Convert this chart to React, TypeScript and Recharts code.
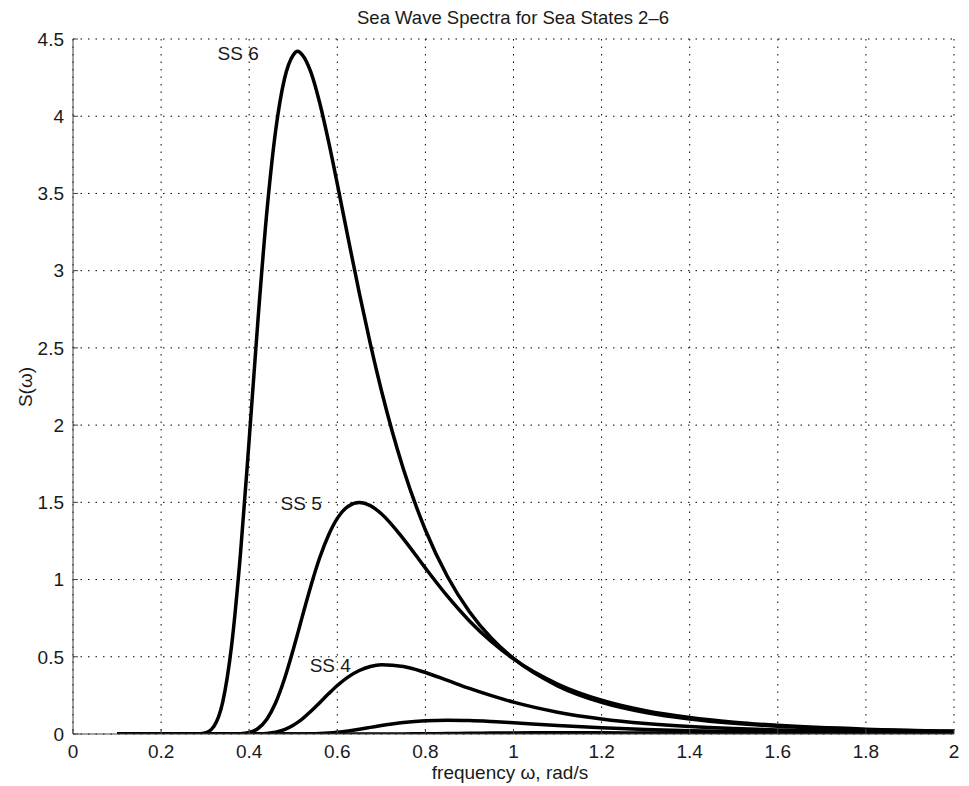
import React from 'react';
import { LineChart, Line, XAxis, YAxis, CartesianGrid, ReferenceDot } from 'recharts';

const omega = [0.1, 0.2, 0.25, 0.28, 0.3, 0.32, 0.34, 0.36, 0.38, 0.4, 0.42, 0.44, 0.46, 0.48, 0.5, 0.51, 0.52, 0.54, 0.56, 0.58, 0.6, 0.625, 0.65, 0.675, 0.7, 0.75, 0.8, 0.85, 0.9, 0.95, 1.0, 1.1, 1.2, 1.3, 1.4, 1.5, 1.6, 1.8, 2.0];

const ss6 = [0, 0, 0, 0.0003, 0.0064, 0.05, 0.208, 0.571, 1.161, 1.907, 2.685, 3.378, 3.906, 4.241, 4.397, 4.42, 4.399, 4.285, 4.087, 3.838, 3.562, 3.204, 2.855, 2.526, 2.226, 1.716, 1.321, 1.02, 0.792, 0.62, 0.489, 0.312, 0.205, 0.139, 0.097, 0.069, 0.05, 0.028, 0.0165];

const ss5 = [0, 0, 0, 0, 0, 0, 0, 0, 0.0017, 0.0097, 0.0357, 0.0957, 0.202, 0.356, 0.547, 0.65, 0.755, 0.959, 1.141, 1.287, 1.396, 1.475, 1.4995, 1.479, 1.426, 1.264, 1.074, 0.892, 0.732, 0.597, 0.486, 0.324, 0.219, 0.151, 0.1065, 0.0765, 0.056, 0.0314, 0.0187];

const ss4 = [0, 0, 0, 0, 0, 0, 0, 0, 0, 0, 0.0008, 0.0036, 0.0114, 0.0279, 0.0561, 0.0749, 0.0965, 0.147, 0.203, 0.26, 0.314, 0.37, 0.411, 0.437, 0.448, 0.437, 0.398, 0.347, 0.295, 0.248, 0.206, 0.1414, 0.0976, 0.0682, 0.0484, 0.035, 0.0257, 0.0145, 0.0087];

const ss3 = [0, 0, 0, 0, 0, 0, 0, 0, 0, 0, 0, 0, 0, 0, 0, 0.0002, 0.0005, 0.0014, 0.0033, 0.0066, 0.0116, 0.0203, 0.031, 0.0428, 0.0546, 0.0745, 0.0862, 0.0898, 0.0871, 0.0806, 0.0724, 0.0553, 0.0408, 0.0298, 0.0218, 0.0161, 0.012, 0.0069, 0.0042];

const ss2 = [0, 0, 0, 0, 0, 0, 0, 0, 0, 0, 0, 0, 0, 0, 0, 0, 0, 0, 0, 0, 0, 0, 0, 0, 0.0001, 0.0006, 0.0016, 0.003, 0.0047, 0.0061, 0.0072, 0.008, 0.0075, 0.0064, 0.0052, 0.0041, 0.0032, 0.002, 0.0013];

const xTicks = [0, 0.2, 0.4, 0.6, 0.8, 1, 1.2, 1.4, 1.6, 1.8, 2];
const yTicks = [0, 0.5, 1, 1.5, 2, 2.5, 3, 3.5, 4, 4.5];

const seriesKeys = ['ss2', 'ss3', 'ss4', 'ss5', 'ss6'];
const seriesValues = [ss2, ss3, ss4, ss5, ss6];

const annotations = [
  { text: 'SS 6', x: 0.375, y: 4.41 },
  { text: 'SS 5', x: 0.518, y: 1.496 },
  { text: 'SS 4', x: 0.584, y: 0.447 },
];

const data = omega.map((w, i) => {
  const row: Record<string, number> = { omega: w };
  seriesKeys.forEach((k, j) => {
    row[k] = seriesValues[j][i];
  });
  return row;
});

const FONT = '"Liberation Sans", Arial, Helvetica, sans-serif';
const TEXT = '#1a1a1a';
const AXIS = '#444';

export default function App() {
  return (
    <div style={{ position: 'relative', width: 961, height: 778, fontFamily: FONT }}>
      <LineChart
        width={961}
        height={778}
        data={data}
        margin={{ top: 31, right: 15, bottom: 22, left: 5 }}
      >
        <CartesianGrid stroke="#000" strokeDasharray="1.5 6" strokeWidth={1} />
        <XAxis
          dataKey="omega"
          type="number"
          domain={[0, 2]}
          ticks={xTicks}
          allowDataOverflow
          height={30}
          stroke={AXIS}
          tickSize={-5}
          tickMargin={16}
          tick={{ fill: TEXT, fontSize: 19, fontFamily: FONT }}
        />
        <YAxis
          type="number"
          domain={[0, 4.5]}
          ticks={yTicks}
          allowDataOverflow
          width={60}
          stroke={AXIS}
          tickSize={-5}
          tickMargin={14}
          tick={{ fill: TEXT, fontSize: 19, fontFamily: FONT }}
        />
        {seriesKeys.map((k) => (
          <Line
            key={k}
            type="monotone"
            dataKey={k}
            stroke="#000"
            strokeWidth={3.5}
            dot={false}
            activeDot={false}
            isAnimationActive={false}
          />
        ))}
        {annotations.map((a) => (
          <ReferenceDot
            key={a.text}
            x={a.x}
            y={a.y}
            r={0}
            fill="none"
            stroke="none"
            label={{ value: a.text, position: 'center', fill: TEXT, fontSize: 19, fontFamily: FONT }}
          />
        ))}
      </LineChart>
      <svg
        width={961}
        height={778}
        style={{ position: 'absolute', left: 0, top: 0, pointerEvents: 'none' }}
      >
        <text x={505} y={16} textAnchor="middle" fontSize={18.5} fill={TEXT} fontFamily={FONT}>
          Sea Wave Spectra for Sea States 2–6
        </text>
        <text x={502} y={771} textAnchor="middle" fontSize={19} fill={TEXT} fontFamily={FONT}>
          frequency ω, rad/s
        </text>
        <text
          x={24}
          y={379}
          textAnchor="middle"
          fontSize={19}
          fill={TEXT}
          fontFamily={FONT}
          transform="rotate(-90 24 379)"
        >
          S(ω)
        </text>
      </svg>
    </div>
  );
}
